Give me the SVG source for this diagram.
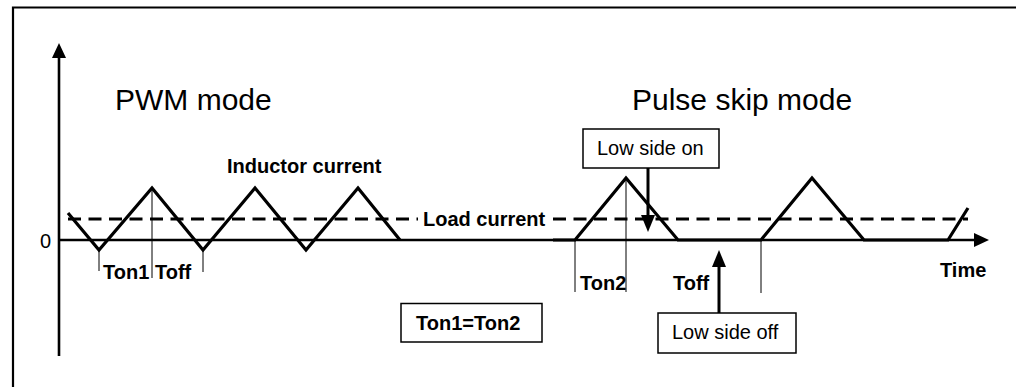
<svg xmlns="http://www.w3.org/2000/svg" width="1016" height="387" viewBox="0 0 1016 387">
<style>
text{font-family:"Liberation Sans",Arial,sans-serif;fill:#000}
.b{font-weight:bold;font-size:20px}
.r{font-size:20px}
.big{font-size:30px}
.tick{stroke:#000;stroke-width:1;fill:none}
.trace{stroke:#000;stroke-width:3.2;fill:none;stroke-linejoin:miter}
.axis{stroke:#000;stroke-width:2.6;fill:none}
.dash{stroke:#000;stroke-width:3.2;fill:none;stroke-dasharray:13 7.5}
.box{fill:#fff;stroke:#000;stroke-width:1.5}
.arr{stroke:#000;stroke-width:3;fill:none}
</style>
<g id="frame">
<path d="M13,387 V7.5 H1016" fill="none" stroke="#000" stroke-width="2.2"/>
</g>
<g id="axes">
<line class="axis" x1="59" y1="356" x2="59" y2="55"/>
<polygon points="59,43 52,58 66,58"/>
<line class="axis" x1="59" y1="240" x2="976" y2="240"/>
<polygon points="989,240 974,233 974,247"/>
<text class="r" x="40" y="248">0</text>
<text class="b" x="940" y="277">Time</text>
</g>
<g id="titles">
<text class="big" x="115" y="110">PWM mode</text>
<text class="big" x="632" y="110">Pulse skip mode</text>
</g>
<g id="load-current">
<line class="dash" x1="68" y1="219" x2="418" y2="219"/>
<line class="dash" x1="553" y1="219" x2="968" y2="219"/>
<text class="b" x="423" y="226">Load current</text>
</g>
<g id="inductor-current">
<path class="trace" d="M68,213 L99,250 L152,188 L203,250 L255,188 L306,250 L358,188 L400,240"/>
<path class="trace" d="M553,240 L575,240 L626,178 L678,240 L761,240 L812,178 L864,240 L948,240 L968,208"/>
<text class="b" x="227" y="173">Inductor current</text>
</g>
<g id="ticks">
<line class="tick" x1="99" y1="250" x2="99" y2="271"/>
<line class="tick" x1="152" y1="188" x2="152" y2="278"/>
<line class="tick" x1="203" y1="250" x2="203" y2="272"/>
<line class="tick" x1="575" y1="240" x2="575" y2="292"/>
<line class="tick" x1="626" y1="178" x2="626" y2="292"/>
<line class="tick" x1="761" y1="240" x2="761" y2="293"/>
<text class="b" x="103" y="279">Ton1</text>
<text class="b" x="155" y="279">Toff</text>
<text class="b" x="580" y="290">Ton2</text>
<text class="b" x="673" y="290">Toff</text>
</g>
<g id="ton-equal">
<rect class="box" x="401" y="303.5" width="141" height="38.5"/>
<text class="b" x="416" y="330">Ton1=Ton2</text>
</g>
<g id="low-side-on">
<rect class="box" x="583" y="129" width="136" height="39"/>
<text class="r" x="597" y="155">Low side on</text>
</g>
<g id="low-side-off">
<rect class="box" x="658" y="313" width="138" height="40"/>
<text class="r" x="672" y="339">Low side off</text>
</g>
<g id="connectors">
<line class="arr" x1="648" y1="168" x2="648" y2="217"/>
<polygon points="648,232 641,215 655,215"/>
<line class="arr" x1="719" y1="313" x2="719" y2="265"/>
<polygon points="719,250 712,267 726,267"/>
</g>
</svg>
